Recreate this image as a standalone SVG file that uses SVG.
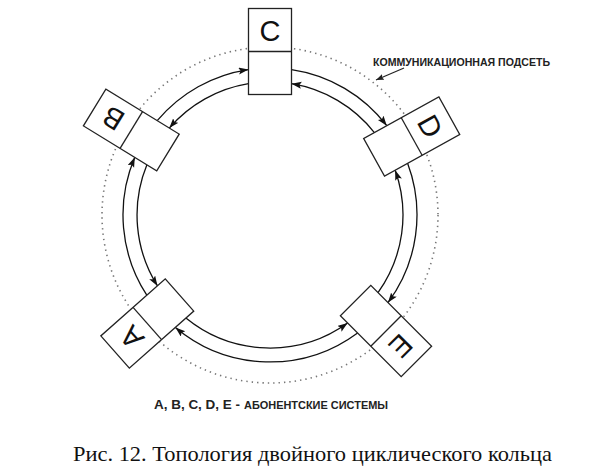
<svg xmlns="http://www.w3.org/2000/svg" width="595" height="474" viewBox="0 0 595 474">
<style>
.box{fill:#fff;stroke:#222;stroke-width:1.3}
.sep{stroke:#222;stroke-width:1.3}
.ring{fill:none;stroke:#111;stroke-width:1.3;marker-end:url(#ah)}
.letter{font-family:"Liberation Sans",Arial,sans-serif;font-size:29px;fill:#111;text-anchor:middle}
.lbl{font-family:"Liberation Sans",Arial,sans-serif;font-weight:bold;fill:#222}
</style>
<defs>
<marker id="ah" markerUnits="userSpaceOnUse" markerWidth="12" markerHeight="8" refX="10" refY="3.5" orient="auto">
<path d="M0,0 L10,3.5 L0,7 L2,3.5 z" fill="#111"/>
</marker>
<marker id="ah2" markerUnits="userSpaceOnUse" markerWidth="10" markerHeight="7" refX="8" refY="3" orient="auto">
<path d="M0,0 L8,3 L0,6 L1.5,3 z" fill="#222"/>
</marker>
</defs>
<rect width="595" height="474" fill="#fff"/>
<g id="subnet">
<circle cx="270" cy="215" r="168" fill="none" stroke="#777" stroke-width="1.6" stroke-dasharray="1.4 4"/>
<line x1="404" y1="68" x2="376" y2="80" stroke="#222" stroke-width="1.2" marker-end="url(#ah2)"/>
<text class="lbl" x="373" y="66" font-size="11.5" textLength="177" lengthAdjust="spacingAndGlyphs">КОММУНИКАЦИОННАЯ ПОДСЕТЬ</text>
</g>
<g id="connectors">
<path class="ring" d="M291.5,69.6 A147,147 0 0 1 386.8,125.7"/>
<path class="ring" d="M407.6,163.3 A147,147 0 0 1 388.0,302.6"/>
<path class="ring" d="M357.6,333.0 A147,147 0 0 1 175.4,327.5"/>
<path class="ring" d="M146.8,295.2 A147,147 0 0 1 134.8,157.3"/>
<path class="ring" d="M157.2,120.7 A147,147 0 0 1 248.5,69.6"/>
<path class="ring" d="M248.5,83.7 A133,133 0 0 0 169.3,128.1"/>
<path class="ring" d="M146.9,164.8 A133,133 0 0 0 157.5,285.9"/>
<path class="ring" d="M185.9,318.1 A133,133 0 0 0 347.6,323.0"/>
<path class="ring" d="M378.0,292.6 A133,133 0 0 0 395.2,170.2"/>
<path class="ring" d="M374.4,132.6 A133,133 0 0 0 291.5,83.7"/>
</g>
<g id="node-C" transform="translate(270,51.5)">
<rect class="box" x="-21.5" y="-43" width="43" height="86"/>
<line class="sep" x1="-21.5" y1="0" x2="21.5" y2="0"/>
<text class="letter" x="0" y="-11">C</text>
</g>
<g id="node-D" transform="translate(411.7,136.5) rotate(61)">
<rect class="box" x="-21.5" y="-43" width="43" height="86"/>
<line class="sep" x1="-21.5" y1="0" x2="21.5" y2="0"/>
<text class="letter" x="0" y="-11">D</text>
</g>
<g id="node-E" transform="translate(386,331) rotate(135)">
<rect class="box" x="-21.5" y="-43" width="43" height="86"/>
<line class="sep" x1="-21.5" y1="0" x2="21.5" y2="0"/>
<text class="letter" x="0" y="-11">E</text>
</g>
<g id="node-A" transform="translate(147.3,323.5) rotate(-131.5)">
<rect class="box" x="-21.5" y="-43" width="43" height="86"/>
<line class="sep" x1="-21.5" y1="0" x2="21.5" y2="0"/>
<text class="letter" x="0" y="-11">A</text>
</g>
<g id="node-B" transform="translate(131.3,130) rotate(-58.5)">
<rect class="box" x="-21.5" y="-43" width="43" height="86"/>
<line class="sep" x1="-21.5" y1="0" x2="21.5" y2="0"/>
<text class="letter" transform="translate(0,-21.5) rotate(-90)" x="0" y="10.5">B</text>
</g>
<g id="legend">
<text class="lbl" x="154" y="409" font-size="13" textLength="86" lengthAdjust="spacingAndGlyphs">A, B, C, D, E -</text>
<text class="lbl" x="244" y="409" font-size="10.5" textLength="144" lengthAdjust="spacingAndGlyphs">АБОНЕНТСКИЕ СИСТЕМЫ</text>
</g>
<text id="caption" x="73" y="461" font-family="'Liberation Serif','Times New Roman',serif" font-size="22" fill="#111" textLength="479" lengthAdjust="spacingAndGlyphs">Рис. 12. Топология двойного циклического кольца</text>
</svg>
